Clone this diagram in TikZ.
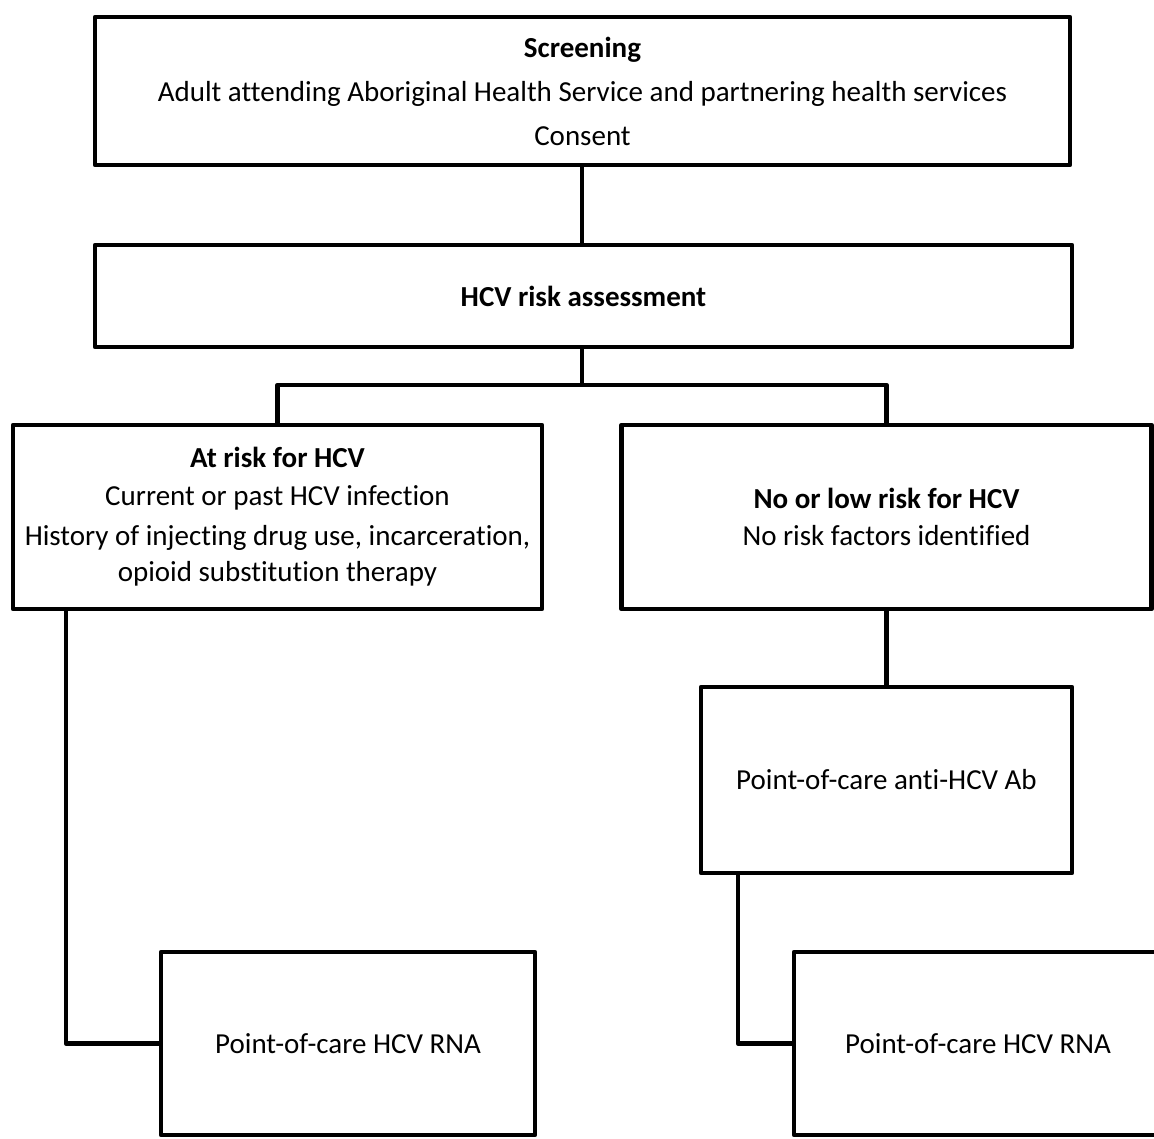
\documentclass[tikz,border=0pt]{standalone}
\usepackage{fontspec}
\setmainfont[Ligatures={NoCommon}]{Carlito}
\begin{document}
\begin{tikzpicture}[x=1pt,y=-1pt,
  box/.style={draw=black,line width=4.5pt,line join=round,rectangle,inner sep=0pt,align=center,
    font=\fontsize{29}{36}\selectfont},
  link/.style={draw=black,line width=4.5pt,line join=round}]
\useasboundingbox (0,0) rectangle (1154,1138);
\clip (0,0) rectangle (1154,1138);
\node[box,minimum width=975pt,minimum height=148pt,font=\fontsize{29}{44}\selectfont] (b1) at (582.5,91)
  {\textbf{Screening}\\Adult attending Aboriginal Health Service and partnering health services\\Consent};
\node[box,minimum width=977pt,minimum height=102pt] (b2) at (583.5,296) {\textbf{HCV risk assessment}};
\node[box,minimum width=529pt,minimum height=184pt] (b3) at (277.5,517)
  {\textbf{At risk for HCV}\\[2pt]Current or past HCV infection\\[4pt]History of injecting drug use, incarceration,\\opioid substitution therapy};
\node[box,minimum width=530pt,minimum height=184pt] (b4) at (886.5,517)
  {\textbf{No or low risk for HCV}\\[1pt]No risk factors identified};
\node[box,minimum width=371pt,minimum height=186pt] (b5) at (886.5,780) {Point-of-care anti-HCV Ab};
\node[box,minimum width=374pt,minimum height=183pt] (b6) at (348,1043.5) {Point-of-care HCV RNA};
\node[box,minimum width=368pt,minimum height=183pt] (b7) at (978,1043.5) {Point-of-care HCV RNA};
\coordinate (j) at (582,385);
\draw[link] (b1.south -| j) -- (b2.north -| j);
\draw[link] (b2.south -| j) -- (j);
\draw[link] (b3.north) |- (j) -| (b4.north);
\draw[link] (b4.south) -- (b5.north);
\coordinate (c3) at (66,609);
\draw[link] (c3) |- (b6.west);
\coordinate (c5) at (738,873);
\draw[link] (c5) |- (b7.west);
\end{tikzpicture}
\end{document}
